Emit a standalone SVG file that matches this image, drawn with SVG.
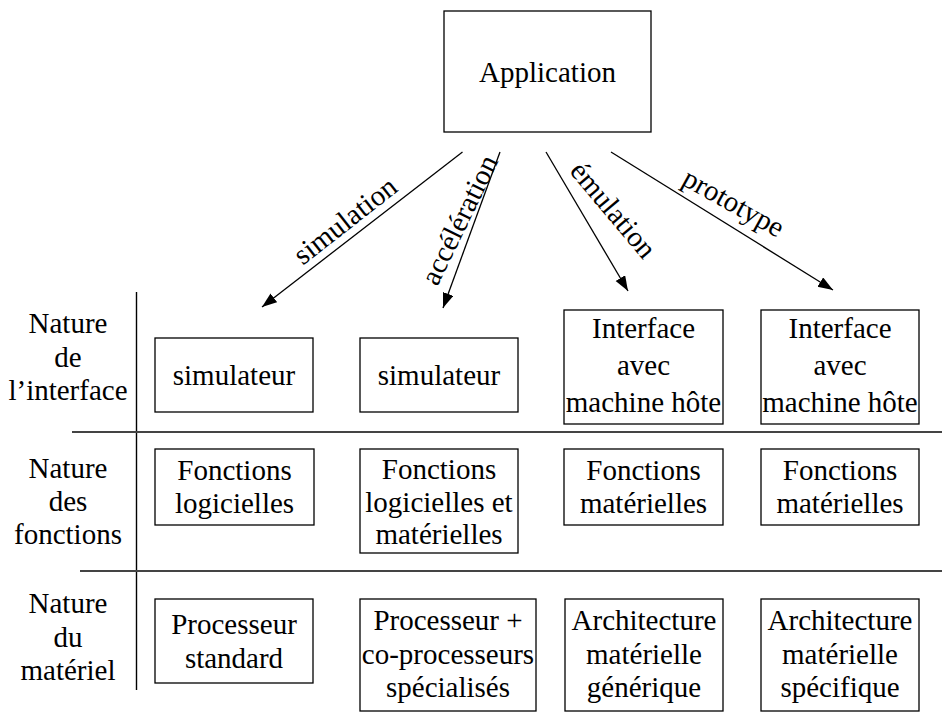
<svg xmlns="http://www.w3.org/2000/svg" width="942" height="714" viewBox="0 0 942 714">
  <style>
    .box { fill: #ffffff; stroke: #000000; stroke-width: 1.3; }
    .rule { stroke: #444444; stroke-width: 1.8; fill: none; }
    .axis { stroke: #000000; stroke-width: 1.4; fill: none; }
    .arrow { stroke: #000000; stroke-width: 1.3; fill: none; marker-end: url(#head); }
  </style>
  <defs>
    <marker id="head" markerUnits="userSpaceOnUse" markerWidth="16" markerHeight="12" refX="15" refY="5.5" orient="auto">
      <path d="M0,0 L15,5.5 L0,11 Z" fill="#000000"/>
    </marker>
  </defs>

  <rect width="942" height="714" fill="#ffffff"/>

  <!-- table grid -->
  <g id="grid">
    <line class="axis" x1="136.5" y1="292" x2="136.5" y2="690"/>
    <line class="rule" x1="72" y1="432" x2="942" y2="432"/>
    <line class="rule" x1="80" y1="571" x2="942" y2="571"/>
  </g>

  <!-- all labels share one serif face -->
  <g font-family="Liberation Serif, Tinos, Times New Roman, Times, Noto Serif, DejaVu Serif, FreeSerif, serif" font-size="29" fill="#000000" text-anchor="middle">

  <!-- row headings -->
  <g id="label-interface">
    <text x="68" y="333">Nature</text>
    <text x="68" y="367">de</text>
    <text x="68" y="400">l’interface</text>
  </g>
  <g id="label-fonctions">
    <text x="68" y="478">Nature</text>
    <text x="68" y="511">des</text>
    <text x="68" y="544">fonctions</text>
  </g>
  <g id="label-materiel">
    <text x="68" y="613">Nature</text>
    <text x="68" y="647">du</text>
    <text x="68" y="680">matériel</text>
  </g>

  <!-- root node -->
  <g id="application">
    <rect class="box" x="444" y="11" width="207" height="121"/>
    <text x="547.5" y="82">Application</text>
  </g>

  <!-- connectors -->
  <g id="connectors">
    <line class="arrow" x1="462.5" y1="152" x2="262" y2="307"/>
    <line class="arrow" x1="500" y1="152" x2="443" y2="308"/>
    <line class="arrow" x1="546" y1="152" x2="628" y2="291"/>
    <line class="arrow" x1="611" y1="152" x2="833" y2="290"/>
    <text transform="translate(351,228) rotate(-38)">simulation</text>
    <text transform="translate(468,224) rotate(-64)">accélération</text>
    <text transform="translate(606,216) rotate(50)">émulation</text>
    <text transform="translate(729,211) rotate(29)">prototype</text>
  </g>

  <!-- interface row -->
  <g id="simulateur-1">
    <rect class="box" x="155" y="338" width="158" height="74"/>
    <text x="234" y="385">simulateur</text>
  </g>
  <g id="simulateur-2">
    <rect class="box" x="360" y="338" width="158" height="74"/>
    <text x="439" y="385">simulateur</text>
  </g>
  <g id="interface-emulation">
    <rect class="box" x="564" y="310" width="159" height="114"/>
    <text x="643.5" y="338">Interface</text>
    <text x="643.5" y="375">avec</text>
    <text x="643.5" y="412">machine hôte</text>
  </g>
  <g id="interface-prototype">
    <rect class="box" x="761" y="310" width="158" height="114"/>
    <text x="840" y="338">Interface</text>
    <text x="840" y="375">avec</text>
    <text x="840" y="412">machine hôte</text>
  </g>

  <!-- functions row -->
  <g id="fonctions-logicielles">
    <rect class="box" x="155" y="449" width="159" height="76"/>
    <text x="234.5" y="480">Fonctions</text>
    <text x="234.5" y="513">logicielles</text>
  </g>
  <g id="fonctions-mixtes">
    <rect class="box" x="360" y="449" width="158" height="104"/>
    <text x="439" y="479">Fonctions</text>
    <text x="439" y="512">logicielles et</text>
    <text x="439" y="544">matérielles</text>
  </g>
  <g id="fonctions-materielles-1">
    <rect class="box" x="564" y="449" width="159" height="76"/>
    <text x="643.5" y="480">Fonctions</text>
    <text x="643.5" y="513">matérielles</text>
  </g>
  <g id="fonctions-materielles-2">
    <rect class="box" x="761" y="449" width="158" height="76"/>
    <text x="840" y="480">Fonctions</text>
    <text x="840" y="513">matérielles</text>
  </g>

  <!-- hardware row -->
  <g id="processeur-standard">
    <rect class="box" x="155" y="599" width="158" height="84"/>
    <text x="234" y="634">Processeur</text>
    <text x="234" y="668">standard</text>
  </g>
  <g id="processeur-coprocesseurs">
    <rect class="box" x="360" y="599" width="176" height="112"/>
    <text x="448" y="630">Processeur +</text>
    <text x="448" y="664">co-processeurs</text>
    <text x="448" y="697">spécialisés</text>
  </g>
  <g id="architecture-generique">
    <rect class="box" x="565" y="599" width="158" height="112"/>
    <text x="644" y="630">Architecture</text>
    <text x="644" y="664">matérielle</text>
    <text x="644" y="697">générique</text>
  </g>
  <g id="architecture-specifique">
    <rect class="box" x="761" y="599" width="158" height="112"/>
    <text x="840" y="630">Architecture</text>
    <text x="840" y="664">matérielle</text>
    <text x="840" y="697">spécifique</text>
  </g>

  </g>
</svg>
